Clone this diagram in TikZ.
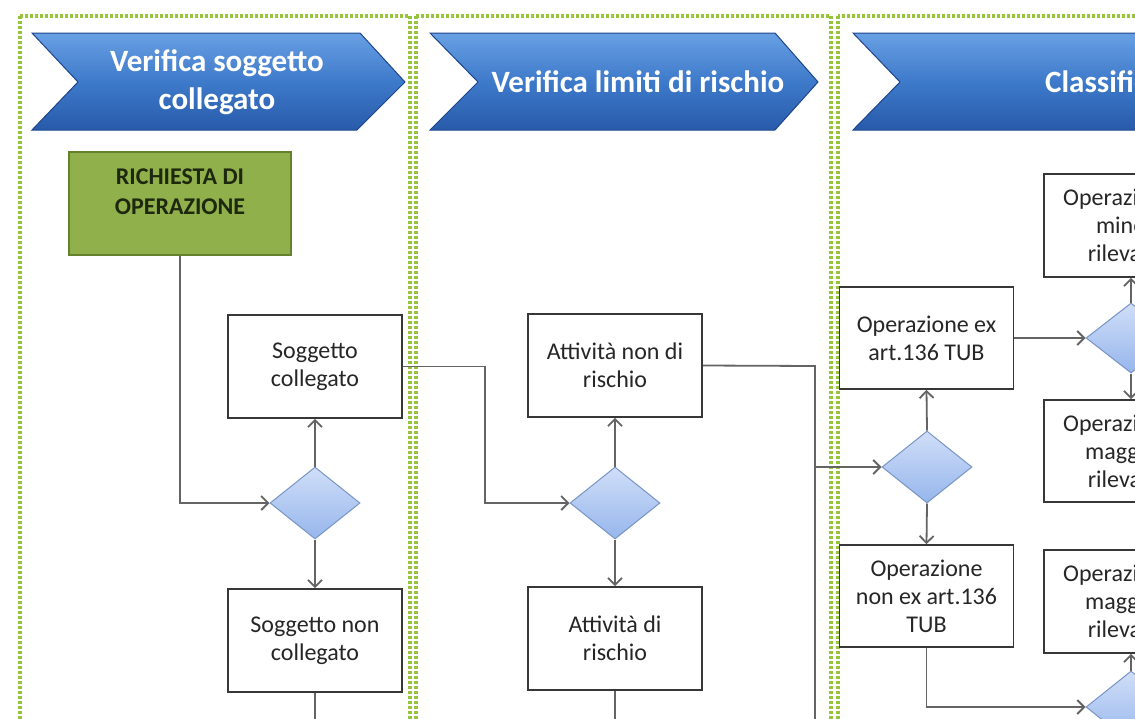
\documentclass[tikz,border=0pt]{standalone}
\usepackage{fontspec}
\setmainfont{Carlito}
\usetikzlibrary{arrows.meta,shapes.geometric,calc}
\definecolor{lanegreen}{RGB}{150,196,60}
\definecolor{chevtop}{RGB}{105,160,228}
\definecolor{chevmid}{RGB}{62,122,202}
\definecolor{chevbot}{RGB}{40,90,170}
\definecolor{chevedge}{RGB}{30,70,140}
\definecolor{richfill}{RGB}{143,176,74}
\definecolor{richedge}{RGB}{100,130,45}
\definecolor{richtext}{RGB}{30,40,15}
\definecolor{dtop}{RGB}{208,222,248}
\definecolor{dbot}{RGB}{150,182,236}
\definecolor{dedge}{RGB}{120,148,196}
\definecolor{conncol}{RGB}{100,100,100}
\definecolor{boxedge}{RGB}{55,55,55}
\begin{document}
\begin{tikzpicture}[x=1pt,y=-1pt,
  lane/.style={draw=lanegreen, line width=3.5pt, dash pattern=on 3pt off 2pt},
  chev/.style={draw=chevedge, line width=1pt, top color=chevtop, bottom color=chevbot, middle color=chevmid},
  headtext/.style={font=\fontsize{31}{38}\selectfont\bfseries, text=white, align=center, inner sep=0pt},
  stepbox/.style={draw=boxedge, line width=1.7pt, fill=white, minimum width=174pt, minimum height=103pt, inner sep=2pt, align=center, font=\fontsize{24}{28}\selectfont, text=black!85},
  dec/.style={diamond, draw=dedge, line width=1pt, top color=dtop, bottom color=dbot, minimum width=90pt, minimum height=72pt, inner sep=0pt, aspect=1.25},
  conn/.style={draw=conncol, line width=1.8pt},
  arr/.style={conn, -{Straight Barb[length=7pt,width=14pt]}}
]
\useasboundingbox (0,0) rectangle (1135,718);
\fill[white] (0,0) rectangle (1135,718);
\clip (0,0) rectangle (1135,718);

% lanes
\draw[lane] (20,16) rectangle (410,760);
\draw[lane] (416,16) rectangle (831,760);
\draw[lane] (838,16) rectangle (1300,760);

% chevrons
\path[chev] (32,33) -- (360,33) -- (405,82) -- (357,130) -- (32,130) -- (78,82) -- cycle;
\path[chev] (430,33) -- (775,33) -- (818,82) -- (775,130) -- (430,130) -- (478,82) -- cycle;
\path[chev] (853,33) -- (1250,33) -- (1290,82) -- (1250,130) -- (853,130) -- (900,82) -- cycle;
\node[headtext] (h1) at (217,82) {Verifica soggetto\\collegato};
\node[headtext] (h2) at (638,82) {Verifica limiti di rischio};
\node[headtext, anchor=west] (h3) at (1045,82) {Classificazione};

% start box
\node[draw=richedge, line width=1.6pt, fill=richfill, minimum width=222pt, minimum height=103pt, inner sep=0pt] (rich) at (180,203.5) {};
\node[font=\fontsize{24}{30}\selectfont\bfseries, text=richtext, align=center, inner sep=0pt] (richlbl) at (180,192) {RICHIESTA DI\\OPERAZIONE};

% lane 1
\node[stepbox] (sc) at (315,366.5) {Soggetto\\collegato};
\node[dec] (d1) at (315,503) {};
\node[stepbox] (snc) at (315,640.5) {Soggetto non\\collegato};

% lane 2
\node[stepbox] (anr) at (615,365.5) {Attività non di\\rischio};
\node[dec] (d2) at (615,503) {};
\node[stepbox] (ar) at (615,638.5) {Attività di\\rischio};

% lane 3
\node[stepbox, minimum height=102pt] (oex) at (926.5,338) {Operazione ex\\art.136 TUB};
\node[dec] (d3) at (927,467) {};
\node[stepbox, minimum height=102pt] (onex) at (926.5,596) {Operazione\\non ex art.136\\TUB};
\node[dec, minimum height=70pt] (d4) at (1131,338) {};
\node[stepbox] (omin) at (1131,225.5) {Operazione di\\minore\\rilevanza};
\node[stepbox, minimum height=102pt] (omag1) at (1131,451) {Operazione di\\maggiore\\rilevanza};
\node[stepbox] (omag2) at (1131,601.5) {Operazione di\\maggiore\\rilevanza};
\node[dec] (d5) at (1131,707) {};

% helper coordinates
\coordinate (j1) at (485,366.5);
\coordinate (j2) at (815,366);
\coordinate (b1) at (315,760);
\coordinate (b2) at (615,760);
\coordinate (b3) at (815,760);

% connectors
\draw[arr] (rich.south) |- (d1.west);
\draw[arr] (d1.north) -- (sc.south);
\draw[arr] (d1.south) -- (snc.north);
\draw[conn] (snc.south) -- (b1);
\draw[arr] (sc.east) -- (j1) |- (d2.west);
\draw[arr] (d2.north) -- (anr.south);
\draw[arr] (d2.south) -- (ar.north);
\draw[conn] (ar.south) -- (b2);
\draw[arr] (anr.east) -- (j2) |- (d3.west);
\draw[conn] (b3) -- (b3 |- d3.west);
\draw[arr] (d3.north) -- (oex.south);
\draw[arr] (d3.south) -- (onex.north);
\draw[arr] (oex.east) -- (d4.west);
\draw[arr] (d4.north) -- (omin.south);
\draw[arr] (d4.south) -- (omag1.north);
\draw[arr] (onex.south) |- (d5.west);
\draw[arr] (d5.north) -- (omag2.south);
\end{tikzpicture}
\end{document}
